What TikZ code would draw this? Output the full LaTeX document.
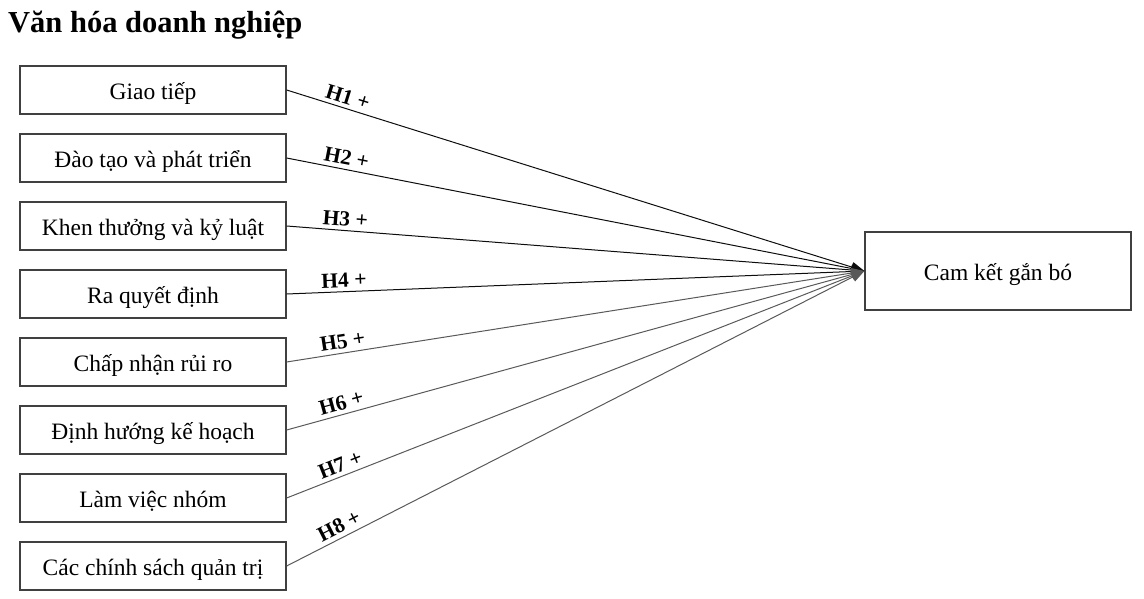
\documentclass[tikz,border=0pt]{standalone}
\usepackage{fontspec}
\setmainfont{Liberation Serif}
\usetikzlibrary{arrows.meta}
\begin{document}
\begin{tikzpicture}[x=1pt,y=-1pt,
  factor/.style={draw=black!75,line width=1.3pt,minimum width=266pt,minimum height=48pt,inner sep=0pt,text height=19pt,text depth=0pt,font=\fontsize{23.5}{27}\selectfont},
  outcome/.style={draw=black!75,line width=1.3pt,minimum width=266pt,minimum height=78pt,inner sep=0pt,text height=18pt,text depth=0pt,font=\fontsize{23.5}{27}\selectfont},
  link/.style={line width=1pt,-{Triangle[length=13pt,width=10pt]}},
  hyp/.style={font=\bfseries\fontsize{21.5}{25}\selectfont,sloped,above=3pt,pos=0.1,inner sep=1pt}]
\useasboundingbox (0,0) rectangle (1144,599);
\node[anchor=base west,inner sep=0pt,font=\bfseries\fontsize{30.5}{35}\selectfont] (title) at (8,33) {Văn hóa doanh nghiệp};
\node[factor] (f1) at (153,90) {Giao tiếp};
\node[factor] (f2) at (153,158) {Đào tạo và phát triển};
\node[factor] (f3) at (153,226) {Khen thưởng và kỷ luật};
\node[factor] (f4) at (153,294) {Ra quyết định};
\node[factor] (f5) at (153,362) {Chấp nhận rủi ro};
\node[factor] (f6) at (153,430) {Định hướng kế hoạch};
\node[factor] (f7) at (153,498) {Làm việc nhóm};
\node[factor] (f8) at (153,566) {Các chính sách quản trị};
\node[outcome] (c) at (998,271) {Cam kết gắn bó};
\draw[link,black!95] (f1.east) -- (c.west) node[hyp,black] {H1 +};
\draw[link,black!95] (f2.east) -- (c.west) node[hyp,black] {H2 +};
\draw[link,black!95] (f3.east) -- (c.west) node[hyp,black] {H3 +};
\draw[link,black!95] (f4.east) -- (c.west) node[hyp,black] {H4 +};
\draw[link,black!65] (f5.east) -- (c.west) node[hyp,black] {H5 +};
\draw[link,black!65] (f6.east) -- (c.west) node[hyp,black] {H6 +};
\draw[link,black!65] (f7.east) -- (c.west) node[hyp,black] {H7 +};
\draw[link,black!65] (f8.east) -- (c.west) node[hyp,black] {H8 +};
\end{tikzpicture}
\end{document}
